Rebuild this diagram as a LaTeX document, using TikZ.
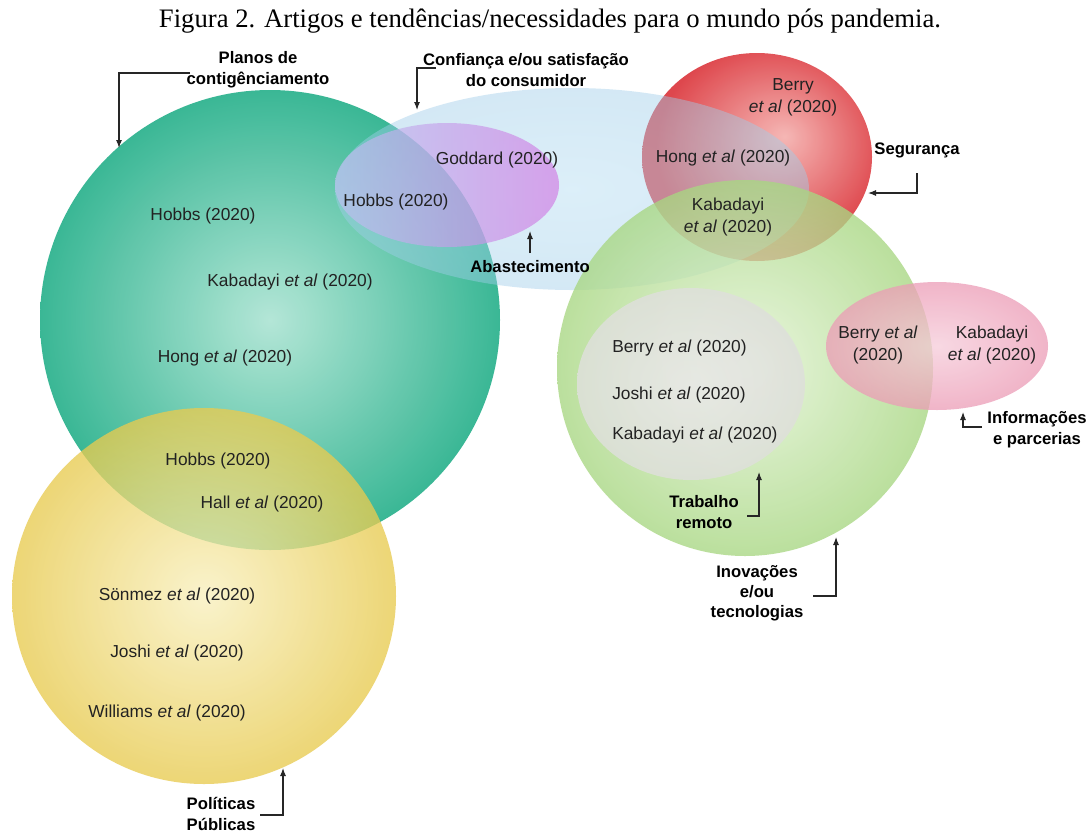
\documentclass[tikz,border=0pt]{standalone}
\usepackage{fontspec}
\setmainfont{Liberation Sans}
\newfontfamily\titlefont{Liberation Serif}
\usetikzlibrary{arrows.meta}
\definecolor{tealE}{RGB}{52,181,146}
\definecolor{tealC}{RGB}{178,230,214}
\definecolor{yelE}{RGB}{232,203,80}
\definecolor{yelC}{RGB}{249,240,190}
\definecolor{blueE}{RGB}{160,206,234}
\definecolor{blueC}{RGB}{178,220,242}
\definecolor{purL}{RGB}{188,194,240}
\definecolor{purM}{RGB}{226,196,243}
\definecolor{purR}{RGB}{210,125,228}
\definecolor{redE}{RGB}{220,58,64}
\definecolor{redC}{RGB}{245,178,176}
\definecolor{grnE}{RGB}{168,215,130}
\definecolor{grnC}{RGB}{228,244,214}
\definecolor{gryE}{RGB}{222,224,218}
\definecolor{gryC}{RGB}{232,232,230}
\definecolor{pnkE}{RGB}{236,156,182}
\definecolor{pnkC}{RGB}{246,204,218}
\definecolor{txt}{RGB}{34,34,34}
\pgfdeclareradialshading{redsh}{\pgfpoint{6bp}{5bp}}{color(0bp)=(redC); color(25bp)=(redE); color(50bp)=(redE)}
\begin{document}
\begin{tikzpicture}[x=0.75pt,y=-0.75pt,
  ref/.style={text=txt, font=\fontsize{13}{16.5}\selectfont, align=center, inner sep=0pt},
  lbl/.style={text=black, font=\bfseries\fontsize{12.5}{16}\selectfont, align=center, inner sep=0pt},
  pointer/.style={draw=black!85, line width=0.8pt, -{Latex[length=6pt,width=4.5pt]}}]
\useasboundingbox[fill=white] (0,0) rectangle (1091,832);

% sets
\shade[inner color=tealC, outer color=tealE, fill opacity=0.97] (270,320) circle [radius=230];
\shade[inner color=yelC, outer color=yelE, fill opacity=0.78] (204,596) ellipse [x radius=192, y radius=188];
\shade[shading=redsh, fill opacity=0.93] (757,157) ellipse [x radius=115, y radius=104];
\shade[inner color=blueC, outer color=blueE, fill opacity=0.45] (572,189) ellipse [x radius=237, y radius=101];
\shade[left color=purL, middle color=purM, right color=purR, fill opacity=0.68] (447,185) ellipse [x radius=112, y radius=62];
\shade[inner color=grnC, outer color=grnE, fill opacity=0.78] (745,368) circle [radius=188];
\shade[inner color=gryC, outer color=gryE, fill opacity=0.88] (691,384) ellipse [x radius=114, y radius=96];
\shade[inner color=pnkC, outer color=pnkE, fill opacity=0.75] (937,346) ellipse [x radius=111, y radius=64];

% title
\node[font=\titlefont\fontsize{20}{24}\selectfont, inner sep=0pt] (title) at (550,21) {Figura 2. Artigos e tendências/necessidades para o mundo pós pandemia.};

% teal
\node[ref] (t1) at (203,216) {Hobbs (2020)};
\node[ref] (t2) at (290,282) {Kabadayi \textit{et al} (2020)};
\node[ref] (t3) at (225,358) {Hong \textit{et al} (2020)};
\node[ref] (ty1) at (218,461) {Hobbs (2020)};
\node[ref] (ty2) at (262,504) {Hall \textit{et al} (2020)};
% yellow
\node[ref] (y1) at (177,596) {Sönmez \textit{et al} (2020)};
\node[ref] (y2) at (177,653) {Joshi \textit{et al} (2020)};
\node[ref] (y3) at (167,713) {Williams \textit{et al} (2020)};
% purple / blue
\node[ref] (p1) at (497,160) {Goddard (2020)};
\node[ref] (p2) at (396,202) {Hobbs (2020)};
% red
\node[ref] (r1) at (793,97) {Berry\\\textit{et al} (2020)};
\node[ref] (r2) at (723,158) {Hong \textit{et al} (2020)};
\node[ref] (r3) at (728,217) {Kabadayi\\\textit{et al} (2020)};
% pink
\node[ref] (k1) at (878,345) {Berry \textit{et al}\\(2020)};
\node[ref] (k2) at (992,345) {Kabadayi\\\textit{et al} (2020)};
% gray
\node[ref, anchor=west] (g1) at (612,348) {Berry \textit{et al} (2020)};
\node[ref, anchor=west] (g2) at (612,395) {Joshi \textit{et al} (2020)};
\node[ref, anchor=west] (g3) at (612,435) {Kabadayi \textit{et al} (2020)};

% labels
\node[lbl] (planos) at (258,70) {Planos de\\contigênciamento};
\node[lbl] (confianca) at (526,70) {Confiança e/ou satisfação\\do consumidor};
\node[lbl] (abast) at (530,267) {Abastecimento};
\node[lbl] (seguranca) at (917,150) {Segurança};
\node[lbl] (informacoes) at (1037,430) {Informações\\e parcerias};
\node[lbl] (trabalho) at (704,512) {Trabalho\\remoto};
\node[lbl, font=\bfseries\fontsize{12.5}{15}\selectfont] (inovacoes) at (757,593) {Inovações\\e/ou\\tecnologias};
\node[lbl] (politicas) at (221,814) {Políticas\\Públicas};

% pointer ends
\coordinate (planosS) at (190,73);
\coordinate (planosT) at (119,148);
\coordinate (confS) at (436,68);
\coordinate (confT) at (417,110);
\coordinate (abastS) at (530,253);
\coordinate (abastT) at (530,231);
\coordinate (segS) at (917,173);
\coordinate (segT) at (868,193);
\coordinate (infS) at (982,427);
\coordinate (infT) at (963,412);
\coordinate (trabS) at (747,516);
\coordinate (trabT) at (759,472);
\coordinate (inoS) at (813,596);
\coordinate (inoT) at (836,537);
\coordinate (polS) at (260,815);
\coordinate (polT) at (283,768);

\draw[pointer] (planosS) -| (planosT);
\draw[pointer] (confS) -| (confT);
\draw[pointer] (abastS) -- (abastT);
\draw[pointer] (segS) |- (segT);
\draw[pointer] (infS) -| (infT);
\draw[pointer] (trabS) -| (trabT);
\draw[pointer] (inoS) -| (inoT);
\draw[pointer] (polS) -| (polT);
\end{tikzpicture}
\end{document}
